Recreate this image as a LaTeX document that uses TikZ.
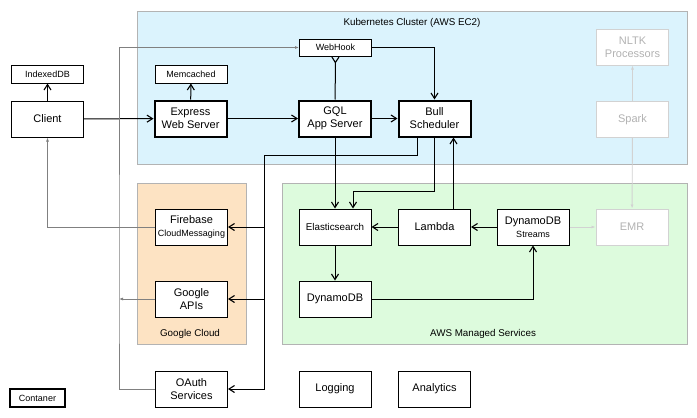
\documentclass[tikz,border=0pt]{standalone}
\usepackage{fontspec}
\setmainfont{Liberation Sans}
\usepackage{tikz}
\usetikzlibrary{arrows.meta}
\definecolor{kubeblue}{HTML}{DBF3FD}
\definecolor{gcporange}{HTML}{FDE3C3}
\definecolor{awsgreen}{HTML}{DDFBDD}
\definecolor{frame}{HTML}{B3B3B3}
\definecolor{faint}{HTML}{D2D2D2}
\definecolor{hintgray}{HTML}{808080}
\newcommand{\smalltext}[1]{{\fontsize{9}{10}\selectfont #1}}
\tikzset{
    svc/.style={draw, line width=1pt, fill=white, minimum width=72pt, minimum height=36pt, inner sep=1pt, align=center, font=\fontsize{11}{13}\selectfont},
    core/.style={svc, line width=2pt},
    store/.style={svc, minimum height=18pt, font=\fontsize{9}{10}\selectfont},
    idle/.style={svc, draw=faint, text=faint!85!black},
    zone/.style={draw=frame, line width=1pt},
    zonelabel/.style={font=\fontsize{9.8}{11}\selectfont},
    wire/.style={line width=1pt, -{Straight Barb[length=5.5pt,width=7pt,line width=1.1pt]}},
    backwire/.style={line width=1pt, -{Straight Barb[length=5.5pt,width=7pt,line width=1.1pt,reversed]}},
    hint/.style={draw=hintgray, line width=0.9pt, -{Latex[length=4pt,width=3pt]}},
    idlewire/.style={draw=faint, line width=0.9pt, -{Latex[length=4pt,width=3pt]}}
}
\begin{document}
\begin{tikzpicture}[x=1pt, y=-1pt]
            \useasboundingbox[fill=white] (0,0) rectangle (697,418);
            \draw[zone, fill=kubeblue] (137,11) rectangle (687,164);
            \draw[zone, fill=gcporange] (137,183) rectangle (246,344);
            \draw[zone, fill=awsgreen] (282,183) rectangle (687,344);
            \node[zonelabel] (k8slabel) at (412,23) {Kubernetes Cluster (AWS EC2)};
            \node[zonelabel] (gcplabel) at (190,334) {Google Cloud};
            \node[zonelabel] (awslabel) at (483,334) {AWS Managed Services};
            \node[svc] (client) at (47.5,119) {Client};
            \node[store] (idxdb) at (47.5,74) {IndexedDB};
            \node[core] (express) at (190.5,118.5) {Express\\Web Server};
            \node[store] (memcache) at (191,74) {Memcached};
            \node[core] (gql) at (335,118.5) {GQL\\App Server};
            \node[core] (bull) at (434.5,118.5) {Bull\\Scheduler};
            \node[store, minimum height=17pt] (webhook) at (335.5,47.5) {WebHook};
            \node[idle] (nltk) at (632.5,47) {NLTK\\Processors};
            \node[idle] (spark) at (632.5,119.5) {Spark};
            \node[svc] (firebase) at (191.5,227) {Firebase\\\smalltext{CloudMessaging}};
            \node[svc] (gapis) at (191.5,299) {Google\\APIs};
            \node[svc] (oauth) at (191.5,389) {OAuth\\Services};
            \node[store, line width=2pt, minimum width=55pt] (legend) at (37.5,398) {Contaner};
            \node[svc, font=\fontsize{9.8}{11}\selectfont] (elastic) at (335,227) {Elasticsearch};
            \node[svc] (lambda) at (434.5,227) {Lambda};
            \node[svc] (streams) at (533,227) {DynamoDB\\\smalltext{Streams}};
            \node[idle] (emr) at (632,227) {EMR};
            \node[svc] (dynamo) at (335,299) {DynamoDB};
            \node[svc] (logging) at (335,389) {Logging};
            \node[svc] (analytics) at (434.5,389) {Analytics};
            \coordinate (bus) at (264,155);
            \coordinate (gbus) at (119,299);
            \draw[wire] (client) -- (idxdb);
            \draw[wire] (client) -- (express);
            \draw[wire] (express) -- (memcache);
            \draw[wire] (express) -- (gql);
            \draw[wire] (gql) -- (bull);
            \draw[backwire] (gql) -- (webhook);
            \draw[wire] (webhook.east) -| (bull.north);
            \draw[wire] (gql) -- (elastic);
            \draw[wire] (bull.south) -- ++(0,54) -| ([xshift=18pt]elastic.north);
            \draw[wire] ([xshift=19pt]lambda.north) -- ([xshift=19pt]bull.south);
            \draw[wire] ([xshift=-17pt]bull.south) |- (bus) |- (oauth.east);
            \draw[wire] (bus |- firebase.east) -- (firebase.east);
            \draw[wire] (bus |- gapis.east) -- (gapis.east);
            \draw[wire] (streams) -- (lambda);
            \draw[wire] (lambda) -- (elastic);
            \draw[wire] (elastic) -- (dynamo);
            \draw[wire] (dynamo.east) -| (streams.south);
            \draw[hint] (firebase.west) -| (client.south);
            \draw[hint] (oauth.west) -| (gbus) |- (webhook.west);
            \draw[hint] (gapis.west) -- (gbus);
            \draw[idlewire] (streams) -- (emr);
            \draw[idlewire] (spark) -- (nltk);
            \draw[idlewire] (spark) -- (emr);
\end{tikzpicture}
\end{document}
